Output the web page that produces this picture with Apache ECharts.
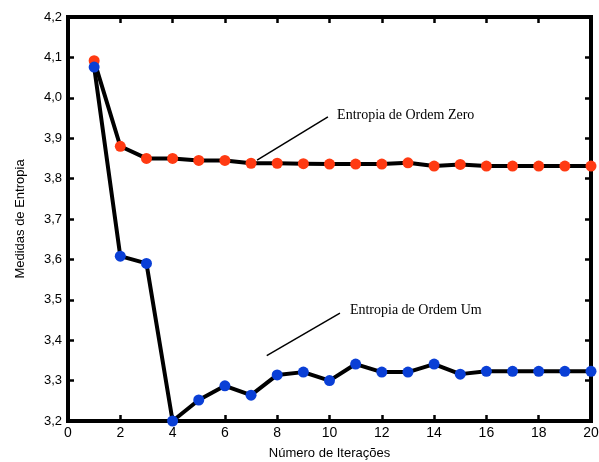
<!DOCTYPE html>
<html><head><meta charset="utf-8">
<script src="https://cdn.jsdelivr.net/npm/echarts@6/dist/echarts.min.js"></script>
<style>html,body{margin:0;padding:0;background:#fff}#c{width:599px;height:462px}</style>
</head><body><div id="c"></div>
<script>
var iterations = [1,2,3,4,5,6,7,8,9,10,11,12,13,14,15,16,17,18,19,20];
var ordemZero = [4.092,3.880,3.850,3.850,3.845,3.845,3.838,3.838,3.837,3.836,3.836,3.836,3.839,3.831,3.835,3.831,3.831,3.831,3.831,3.831];
var ordemUm = [4.076,3.608,3.590,3.200,3.252,3.287,3.264,3.314,3.321,3.300,3.341,3.321,3.321,3.341,3.316,3.323,3.323,3.323,3.323,3.323];
var annotZero = {text:'Entropia de Ordem Zero', from:[7.23,3.846], to:[9.94,3.953], at:[10.29,3.957]};
var annotUm = {text:'Entropia de Ordem Um', from:[7.6,3.362], to:[10.4,3.467], at:[10.78,3.473]};

var chart = echarts.init(document.getElementById('c'));
function pairs(v){return iterations.map(function(x,i){return [x,v[i]];});}
var sans = 'Liberation Sans, Arial, sans-serif';
var tickStyle = {show:true, inside:true, length:6, lineStyle:{color:'#000', width:2.5}};
function xAx(pos, show){return {type:'value', position:pos, min:0, max:20, interval:2,
  axisLine:{show:true, onZero:false, lineStyle:{color:'#000', width:4}},
  axisTick:tickStyle, splitLine:{show:false},
  axisLabel:{show:show, color:'#000', fontFamily:sans, fontSize:14, margin:5},
  name: show ? 'Número de Iterações' : '', nameLocation:'middle', nameGap:26,
  nameTextStyle:{color:'#000', fontFamily:sans, fontSize:13}};}
function yAx(pos, show){return {type:'value', position:pos, min:3.2, max:4.2, interval:0.1,
  axisLine:{show:true, onZero:false, lineStyle:{color:'#000', width:4}},
  axisTick:tickStyle, splitLine:{show:false},
  axisLabel:{show:show, color:'#000', fontFamily:sans, fontSize:13, margin:6,
    formatter:function(v){return v.toFixed(1).replace('.',',');}},
  name: show ? 'Medidas de Entropia' : '', nameLocation:'middle', nameGap:41, nameRotate:90,
  nameTextStyle:{color:'#000', fontFamily:sans, fontSize:13}};}

chart.setOption({
  animation:false,
  grid:{left:68, right:8, top:17, bottom:41, show:true, borderColor:'#000', borderWidth:4, outerBoundsMode:'none', containLabel:false},
  xAxis:[xAx('bottom', true), xAx('top', false)],
  yAxis:[yAx('left', true), yAx('right', false)],
  series:[
    {type:'line', data:pairs(ordemZero), symbol:'circle', symbolSize:11,
     lineStyle:{color:'#000', width:4}, itemStyle:{color:'#ff3a12'}, z:3},
    {type:'line', data:pairs(ordemUm), symbol:'circle', symbolSize:11,
     lineStyle:{color:'#000', width:4}, itemStyle:{color:'#0a3fd6'}, z:4}
  ]
});

var g = [];
[annotZero, annotUm].forEach(function(a){
  var p1 = chart.convertToPixel({gridIndex:0}, a.from);
  var p2 = chart.convertToPixel({gridIndex:0}, a.to);
  var pt = chart.convertToPixel({gridIndex:0}, a.at);
  g.push({type:'line', shape:{x1:p1[0], y1:p1[1], x2:p2[0], y2:p2[1]}, style:{stroke:'#000', lineWidth:1.5}, z:10});
  g.push({type:'text', x:pt[0], y:pt[1], style:{text:a.text, fill:'#000', font:'14px "Liberation Serif", "Times New Roman", serif', verticalAlign:'middle'}, z:10});
});
chart.setOption({graphic:g});
</script></body></html>
